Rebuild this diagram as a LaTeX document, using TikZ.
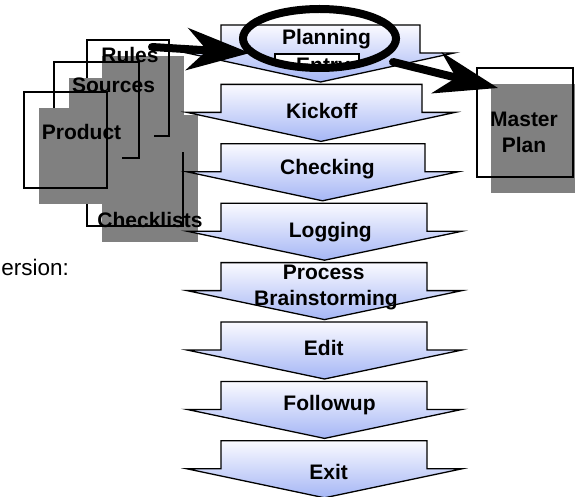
\documentclass[tikz,border=0pt]{standalone}
\usepackage{fontspec}
\setmainfont{Liberation Sans}
\usetikzlibrary{arrows.meta}
\definecolor{docgray}{RGB}{128,128,128}
\definecolor{arrowtop}{RGB}{250,250,255}
\definecolor{arrowbot}{RGB}{165,182,245}
\tikzset{
  procshape/.style={draw=black, line width=1.3pt, line join=miter, top color=arrowtop, bottom color=arrowbot},
  lbl/.style={font=\fontsize{21}{25}\selectfont\bfseries, anchor=base, inner sep=0pt, text=black},
  docline/.style={draw=black, line width=1.4pt},
  docshadow/.style={fill=docgray},
  bigarrow/.style={line width=8pt, line cap=round, -{Stealth[length=63pt, width=42pt, inset=20pt]}},
  ring/.style={draw=black, line width=8pt},
  entrybox/.style={draw=black, line width=1.4pt, fill=white},
}
\newcommand\procarrow[3]{%
  \path[procshape] (221,#1) -- (#2,#1) -- (#2,{#1+28}) -- (#3,{#1+28}) -- ({(187+#3)/2},{#1+57}) -- (187,{#1+28}) -- (221,{#1+28}) -- cycle;
}
\begin{document}
\begin{tikzpicture}[x=1pt,y=-1pt]
\useasboundingbox (0,0) rectangle (575,497);
% documents
\fill[docshadow] (102,115) rectangle (198,242);
\draw[docline] (87,99) rectangle (183,226);
\node[lbl] (checklists) at (150,227) {Checklists};
\fill[docshadow] (102,56) rectangle (184,152);
\draw[docline] (87,40) rectangle (169,136);
\node[lbl] (rules) at (130,63) {Rules};
\fill[docshadow] (69,78) rectangle (154,174);
\draw[docline] (54,62) rectangle (139,158);
\node[lbl] (sources) at (113.5,93) {Sources};
\fill[docshadow] (39,108) rectangle (122,204);
\draw[docline] (24,92) rectangle (107,188);
\node[lbl] (product) at (81.5,140) {Product};
% version text
\node[anchor=base east, inner sep=0pt, font=\fontsize{22.5}{27}\selectfont] (ver) at (69,275) {ersion:};
% process arrows
\procarrow{25}{420}{454}
\procarrow{84.4}{422}{455}
\procarrow{143.8}{425}{458}
\procarrow{203.2}{427}{462}
\procarrow{262.6}{427}{462}
\procarrow{322}{427}{462}
\procarrow{381.4}{427}{462}
\procarrow{440.8}{427}{462}
\node[lbl] (planning) at (326.5,45) {Planning};
\node[lbl] (kickoff) at (321.7,119) {Kickoff};
\node[lbl] (checking) at (327.5,175) {Checking};
\node[lbl] (logging) at (330.3,237.3) {Logging};
\node[lbl] (process) at (323.7,279.3) {Process};
\node[lbl] (brain) at (326,305) {Brainstorming};
\node[lbl] (edit) at (323.8,355) {Edit};
\node[lbl] (followup) at (329.5,410.7) {Followup};
\node[lbl] (exit) at (328.7,479) {Exit};
% entry box, partly hidden
\begin{scope}
  \clip (265,45) rectangle (370,66);
  \draw[entrybox] (275,54) rectangle (359,82);
  \node[lbl] (entry) at (323,73) {Entry};
\end{scope}
% master plan
\fill[docshadow] (491,84) rectangle (587,193);
\draw[docline] (477,68) rectangle (573,177);
\node[lbl] (master) at (524,127) {Master};
\node[lbl] (plan) at (524,153) {Plan};
% ellipse highlight
\draw[ring] (319.5,38.5) ellipse [x radius=76.5pt, y radius=29.5pt];
% big arrows
\coordinate (a1s) at (152,47);
\coordinate (a1e) at (250,53);
\coordinate (a2s) at (393,62);
\coordinate (a2e) at (498,88);
\draw[bigarrow] (a1s) -- (a1e);
\draw[bigarrow] (a2s) -- (a2e);
\end{tikzpicture}
\end{document}
